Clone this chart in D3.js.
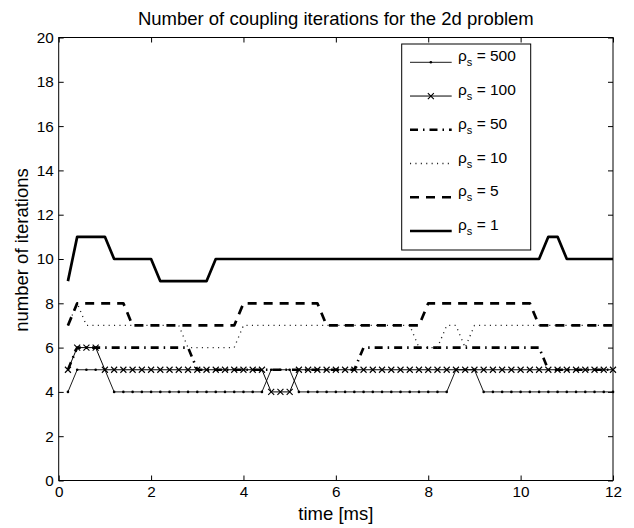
<!DOCTYPE html>
<html>
<head>
<meta charset="utf-8">
<script src="https://cdn.jsdelivr.net/npm/d3@7"></script>
<style>
  html, body { margin: 0; padding: 0; background: #fff; }
  svg { display: block; }
  text { font-family: "Liberation Sans", Arial, Helvetica, sans-serif; fill: #000; }
</style>
</head>
<body>
<svg id="chart" width="634" height="528"></svg>
<script>
// ---------- data ----------
const times = [
  0.2, 0.4, 0.6, 0.8, 1.0, 1.2, 1.4, 1.6, 1.8, 2.0,
  2.2, 2.4, 2.6, 2.8, 3.0, 3.2, 3.4, 3.6, 3.8, 4.0,
  4.2, 4.4, 4.6, 4.8, 5.0, 5.2, 5.4, 5.6, 5.8, 6.0,
  6.2, 6.4, 6.6, 6.8, 7.0, 7.2, 7.4, 7.6, 7.8, 8.0,
  8.2, 8.4, 8.6, 8.8, 9.0, 9.2, 9.4, 9.6, 9.8, 10.0,
  10.2, 10.4, 10.6, 10.8, 11.0, 11.2, 11.4, 11.6, 11.8, 12.0
];
const rho500 = [
  4, 5, 5, 5, 5, 4, 4, 4, 4, 4,
  4, 4, 4, 4, 4, 4, 4, 4, 4, 4,
  4, 4, 5, 5, 5, 4, 4, 4, 4, 4,
  4, 4, 4, 4, 4, 4, 4, 4, 4, 4,
  4, 4, 5, 5, 5, 4, 4, 4, 4, 4,
  4, 4, 4, 4, 4, 4, 4, 4, 4, 4
];
const rho100 = [
  5, 6, 6, 6, 5, 5, 5, 5, 5, 5,
  5, 5, 5, 5, 5, 5, 5, 5, 5, 5,
  5, 5, 4, 4, 4, 5, 5, 5, 5, 5,
  5, 5, 5, 5, 5, 5, 5, 5, 5, 5,
  5, 5, 5, 5, 5, 5, 5, 5, 5, 5,
  5, 5, 5, 5, 5, 5, 5, 5, 5, 5
];
const rho50 = [
  5, 6, 6, 6, 6, 6, 6, 6, 6, 6,
  6, 6, 6, 6, 5, 5, 5, 5, 5, 5,
  5, 5, 5, 5, 5, 5, 5, 5, 5, 5,
  5, 5, 6, 6, 6, 6, 6, 6, 6, 6,
  6, 6, 6, 6, 6, 6, 6, 6, 6, 6,
  6, 6, 5, 5, 5, 5, 5, 5, 5, 5
];
const rho10 = [
  7, 8, 7, 7, 7, 7, 7, 7, 7, 7,
  7, 7, 7, 6, 6, 6, 6, 6, 6, 7,
  7, 7, 7, 7, 7, 7, 7, 7, 7, 7,
  7, 7, 7, 7, 7, 7, 7, 7, 6, 6,
  6, 7, 7, 6, 7, 7, 7, 7, 7, 7,
  7, 7, 7, 7, 7, 7, 7, 7, 7, 7
];
const rho5 = [
  7, 8, 8, 8, 8, 8, 8, 7, 7, 7,
  7, 7, 7, 7, 7, 7, 7, 7, 7, 8,
  8, 8, 8, 8, 8, 8, 8, 8, 7, 7,
  7, 7, 7, 7, 7, 7, 7, 7, 7, 8,
  8, 8, 8, 8, 8, 8, 8, 8, 8, 8,
  8, 7, 7, 7, 7, 7, 7, 7, 7, 7
];
const rho1 = [
  9, 11, 11, 11, 11, 10, 10, 10, 10, 10,
  9, 9, 9, 9, 9, 9, 10, 10, 10, 10,
  10, 10, 10, 10, 10, 10, 10, 10, 10, 10,
  10, 10, 10, 10, 10, 10, 10, 10, 10, 10,
  10, 10, 10, 10, 10, 10, 10, 10, 10, 10,
  10, 10, 11, 11, 10, 10, 10, 10, 10, 10
];
const seriesNames = ["500", "100", "50", "10", "5", "1"];
const xTicks = [0, 2, 4, 6, 8, 10, 12];
const yTicks = [0, 2, 4, 6, 8, 10, 12, 14, 16, 18, 20];
const titleText = "Number of coupling iterations for the 2d problem";
const xLabelText = "time [ms]";
const yLabelText = "number of iterations";

// ---------- layout ----------
const W = 634, H = 528;
const plot = { left: 58.7, right: 613, top: 37.5, bottom: 480.5 };
const svg = d3.select("#chart");
svg.append("rect").attr("width", W).attr("height", H).attr("fill", "#fff");

const x = d3.scaleLinear().domain([0, 12]).range([plot.left, plot.right]);
const y = d3.scaleLinear().domain([0, 20]).range([plot.bottom, plot.top]);

const styles = {
  "500": { width: 0.9, dash: null, marker: "dot" },
  "100": { width: 1.0, dash: null, marker: "x" },
  "50":  { width: 2.6, dash: "8,5,1.5,5", marker: null },
  "10":  { width: 1.3, dash: "1.1,4.3", marker: null, color: "#222" },
  "5":   { width: 2.7, dash: "9,7", marker: null },
  "1":   { width: 2.7, dash: null, marker: null }
};
const valuesByName = { "500": rho500, "100": rho100, "50": rho50, "10": rho10, "5": rho5, "1": rho1 };

// ---------- axes ----------
const tickLen = 5;
const fontTick = 15.3;
const gx = svg.append("g").attr("transform", `translate(0,${plot.bottom})`)
  .call(d3.axisBottom(x).tickValues(xTicks).tickFormat(d3.format("d")).tickSize(-tickLen).tickPadding(6));
const gy = svg.append("g").attr("transform", `translate(${plot.left},0)`)
  .call(d3.axisLeft(y).tickValues(yTicks).tickFormat(d3.format("d")).tickSize(-tickLen).tickPadding(5));
const gt = svg.append("g").attr("transform", `translate(0,${plot.top})`)
  .call(d3.axisTop(x).tickValues(xTicks).tickFormat("").tickSize(-tickLen));
const gr = svg.append("g").attr("transform", `translate(${plot.right},0)`)
  .call(d3.axisRight(y).tickValues(yTicks).tickFormat("").tickSize(-tickLen));
[gx, gy, gt, gr].forEach(g => {
  g.select(".domain").remove();
  g.selectAll(".tick line").attr("stroke", "#000").attr("stroke-width", 1);
  g.selectAll(".tick text").attr("font-size", fontTick).attr("font-family", "Liberation Sans, Arial, sans-serif").attr("fill", "#000");
});

// ---------- lines ----------
const line = d3.line().x(d => x(d.t)).y(d => y(d.v));
const plotG = svg.append("g");
seriesNames.forEach(name => {
  const st = styles[name];
  const pts = times.map((t, i) => ({ t, v: valuesByName[name][i] }));
  plotG.append("path").datum(pts)
    .attr("d", line)
    .attr("fill", "none")
    .attr("stroke", st.color || "#000")
    .attr("stroke-width", st.width)
    .attr("stroke-dasharray", st.dash)
    .attr("stroke-linejoin", "round");
  if (st.marker === "dot") {
    plotG.selectAll(null).data(pts).enter().append("circle")
      .attr("cx", d => x(d.t)).attr("cy", d => y(d.v)).attr("r", 1.3).attr("fill", "#000");
  } else if (st.marker === "x") {
    const s = 3;
    plotG.selectAll(null).data(pts).enter().append("path")
      .attr("d", d => { const cx = x(d.t), cy = y(d.v);
        return `M${cx - s},${cy - s}L${cx + s},${cy + s}M${cx - s},${cy + s}L${cx + s},${cy - s}`; })
      .attr("stroke", "#000").attr("stroke-width", 1.1).attr("fill", "none");
  }
});

// box
svg.append("rect")
  .attr("x", plot.left).attr("y", plot.top)
  .attr("width", plot.right - plot.left).attr("height", plot.bottom - plot.top)
  .attr("fill", "none").attr("stroke", "#000").attr("stroke-width", 1);

// ---------- legend ----------
const leg = { x0: 401.7, y0: 44, x1: 530.7, y1: 250 };
const lg = svg.append("g");
lg.append("rect").attr("x", leg.x0).attr("y", leg.y0)
  .attr("width", leg.x1 - leg.x0).attr("height", leg.y1 - leg.y0)
  .attr("fill", "#fff").attr("stroke", "#000").attr("stroke-width", 1);
const rowY = d3.scaleLinear().domain([0, seriesNames.length - 1]).range([62.3, 231]);
seriesNames.forEach((name, i) => {
  const st = styles[name];
  const yy = rowY(i);
  const x1 = 410, x2 = 451.7;
  lg.append("line").attr("x1", x1).attr("x2", x2).attr("y1", yy).attr("y2", yy)
    .attr("stroke", st.color || "#000").attr("stroke-width", st.width)
    .attr("stroke-dasharray", st.dash);
  const mx = (x1 + x2) / 2;
  if (st.marker === "dot") {
    lg.append("circle").attr("cx", mx).attr("cy", yy).attr("r", 1.3).attr("fill", "#000");
  } else if (st.marker === "x") {
    const s = 3;
    lg.append("path").attr("d", `M${mx - s},${yy - s}L${mx + s},${yy + s}M${mx - s},${yy + s}L${mx + s},${yy - s}`)
      .attr("stroke", "#000").attr("stroke-width", 1.1);
  }
  const t = lg.append("text").attr("x", 458).attr("y", yy - 1).attr("font-size", 15.5);
  t.append("tspan").text("ρ");
  t.append("tspan").attr("font-size", 11).attr("dy", 5).text("s");
  t.append("tspan").attr("dy", -5).text(" = " + name);
});

// ---------- titles ----------
svg.append("text").attr("x", (plot.left + plot.right) / 2).attr("y", 25)
  .attr("text-anchor", "middle").attr("font-size", 18.5).text(titleText);
svg.append("text").attr("x", (plot.left + plot.right) / 2).attr("y", 520)
  .attr("text-anchor", "middle").attr("font-size", 18.5).text(xLabelText);
svg.append("text").attr("transform", `translate(28,250) rotate(-90)`)
  .attr("text-anchor", "middle").attr("font-size", 18.5).text(yLabelText);
</script>
</body>
</html>
